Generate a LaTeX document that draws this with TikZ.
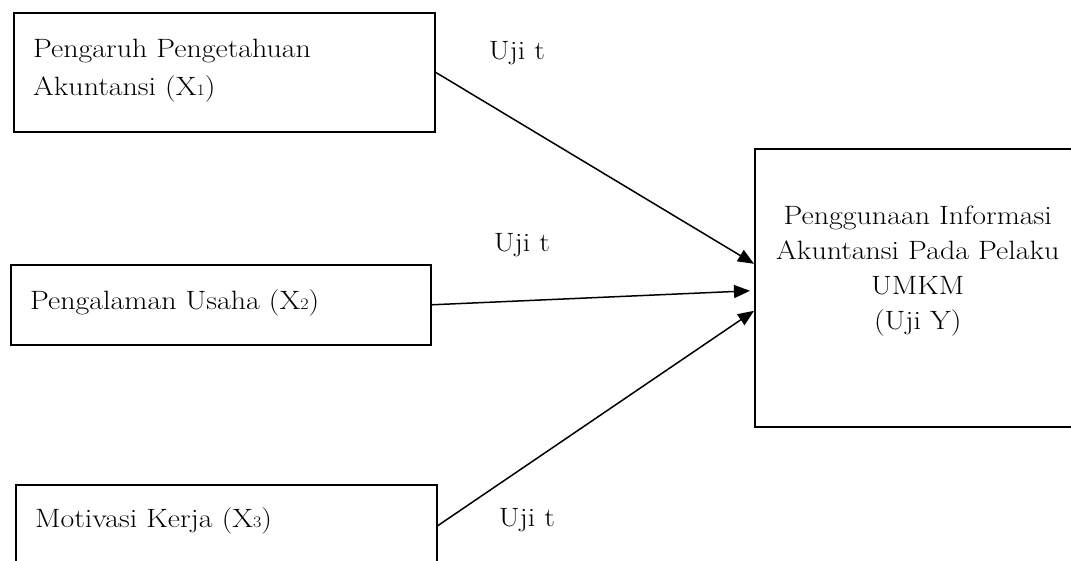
\documentclass[tikz,border=0pt]{standalone}
\usepackage{fontspec}
\setmainfont{Latin Modern Roman}[FakeStretch=1.13]
\usetikzlibrary{arrows.meta,calc}
\newcommand{\xsub}[1]{{\fontsize{16}{16}\selectfont #1}}
\begin{document}
\begin{tikzpicture}[x=1pt, y=-1pt, >={Triangle[length=16pt,width=13pt]},
  varbox/.style={draw, line width=1.6pt, anchor=north west, inner sep=0pt},
  vartext/.style={anchor=west, align=left, inner sep=0pt, font=\fontsize{26.5}{38}\selectfont},
  ujit/.style={inner sep=0pt, font=\fontsize{26.5}{30}\selectfont},
  link/.style={->, line width=1.5pt}]
\useasboundingbox (0,0) rectangle (1071,561);
\clip (0,0) rectangle (1071,561);
% independent variables
\node[varbox, minimum width=421pt, minimum height=119pt] (x1) at (13,12) {};
\node[vartext] (x1t) at ($(x1.west)+(20,-2)$) {Pengaruh Pengetahuan\\Akuntansi (X\xsub{1})};
\node[varbox, minimum width=420pt, minimum height=80pt] (x2) at (10,264) {};
\node[vartext] (x2t) at ($(x2.west)+(20,-2)$) {Pengalaman Usaha (X\xsub{2})};
\node[varbox, minimum width=421pt, minimum height=82pt] (x3) at (15,484) {};
\node[vartext] (x3t) at ($(x3.west)+(20,-5)$) {Motivasi Kerja (X\xsub{3})};
% dependent variable
\node[varbox, minimum width=326pt, minimum height=278pt] (ym) at (754,148) {};
\node[align=center, inner sep=0pt, font=\fontsize{26.5}{35}\selectfont] (ymt) at ($(ym.center)+(0,-17)$)
  {Penggunaan Informasi\\Akuntansi Pada Pelaku\\UMKM\\(Uji Y)};
% tests
\draw[link] (x1.east) -- ($(ym.west)+(0,-24)$);
\draw[link] (x2.east) -- ($(ym.west)+(-4,3)$);
\draw[link] (x3.east) -- ($(ym.west)+(0,23)$);
\node[ujit] (u1) at (517,53) {Uji t};
\node[ujit] (u2) at (522,245) {Uji t};
\node[ujit] (u3) at (527,520) {Uji t};
\end{tikzpicture}
\end{document}
